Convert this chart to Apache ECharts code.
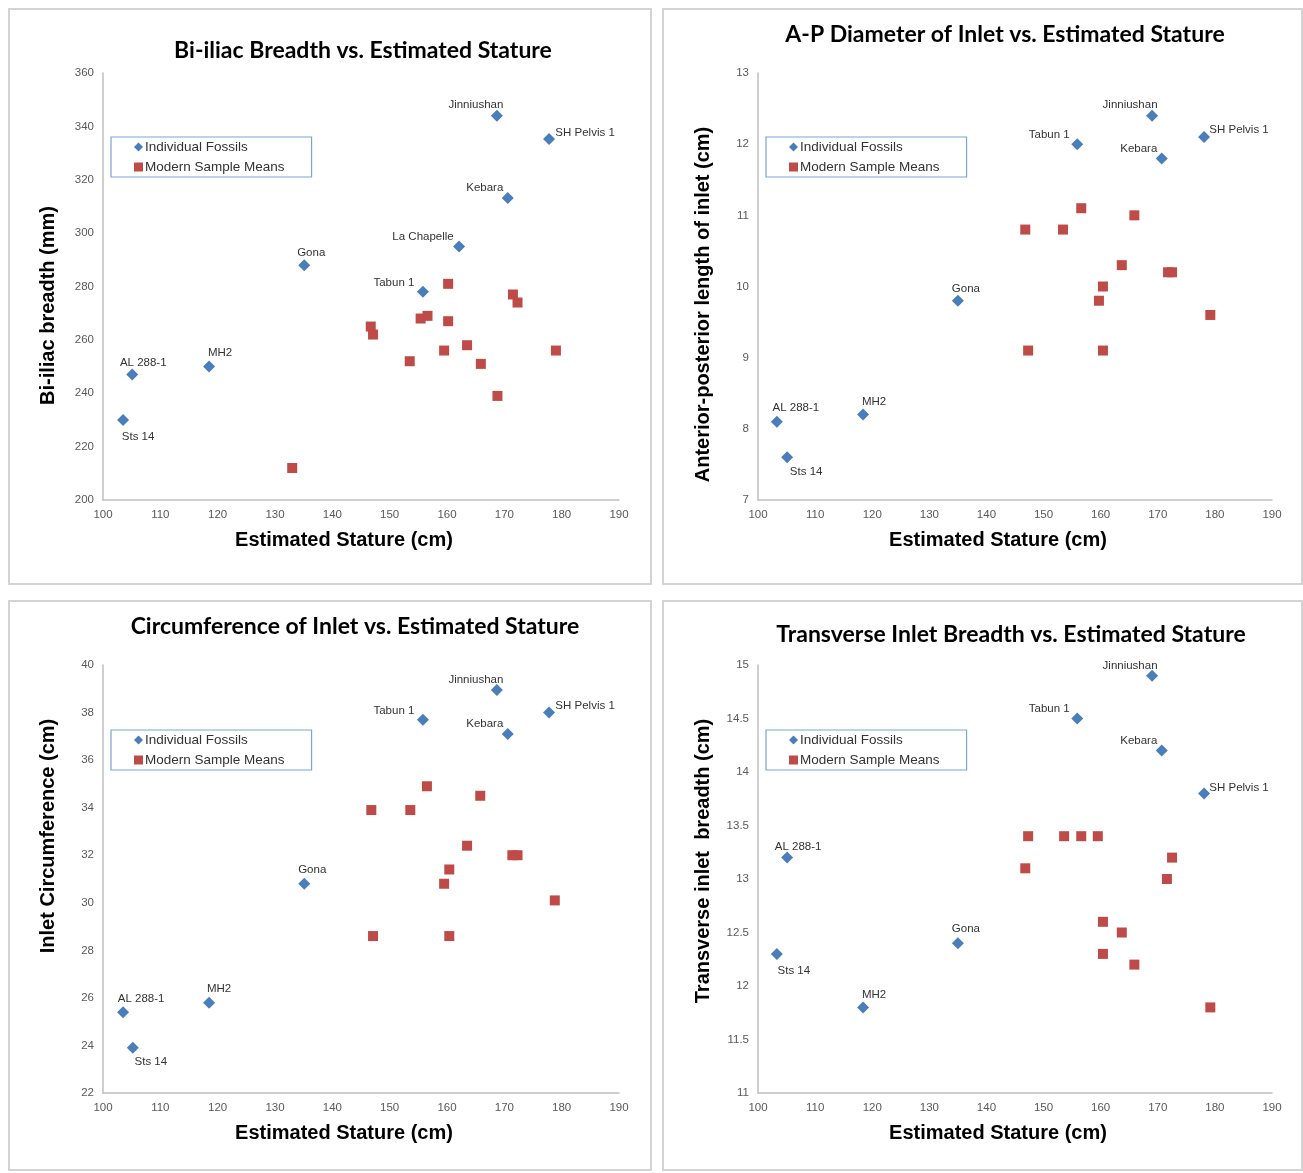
<!DOCTYPE html>
<html><head><meta charset="utf-8">
<script src="https://cdn.jsdelivr.net/npm/echarts@6/dist/echarts.min.js"></script>
<style>html,body{margin:0;padding:0;background:#fff}#c{width:1303px;height:1173px}</style>
</head><body><div id="c"></div>
<script>
// ---------- DATA ----------
const staturTicks = [100, 110, 120, 130, 140, 150, 160, 170, 180, 190];

// Panel 1: Bi-iliac breadth (mm)
const biiliacTicks = [200, 220, 240, 260, 280, 300, 320, 340, 360];
const biiliacFossilNames = ['Jinniushan', 'SH Pelvis 1', 'Kebara', 'La Chapelle', 'Gona', 'Tabun 1', 'MH2', 'AL 288-1', 'Sts 14'];
const biiliacFossilStature = [168.7, 177.8, 170.6, 162.1, 135.1, 155.8, 118.5, 105.1, 103.5];
const biiliacFossilValue = [344, 335.3, 313.2, 295, 288, 278, 250, 247, 230];
const biiliacModernStature = [160.2, 171.5, 172.3, 146.7, 147.1, 155.4, 156.6, 160.2, 153.5, 159.5, 163.5, 165.9, 179.0, 168.8, 133.0];
const biiliacModernValue = [281, 277, 274, 265, 262, 268, 269, 267, 252, 256, 258, 251, 256, 239, 212];

// Panel 2: A-P diameter of inlet (cm)
const apTicks = [7, 8, 9, 10, 11, 12, 13];
const apFossilNames = ['Jinniushan', 'Tabun 1', 'SH Pelvis 1', 'Kebara', 'Gona', 'MH2', 'AL 288-1', 'Sts 14'];
const apFossilStature = [169.0, 155.9, 178.1, 170.7, 135.0, 118.4, 103.3, 105.1];
const apFossilValue = [12.4, 12.0, 12.1, 11.8, 9.8, 8.2, 8.1, 7.6];
const apModernStature = [146.8, 147.3, 153.4, 156.6, 159.7, 160.4, 160.4, 163.7, 165.9, 171.8, 172.5, 179.2];
const apModernValue = [10.8, 9.1, 10.8, 11.1, 9.8, 10.0, 9.1, 10.3, 11.0, 10.2, 10.2, 9.6];

// Panel 3: Circumference of inlet (cm)
const circTicks = [22, 24, 26, 28, 30, 32, 34, 36, 38, 40];
const circFossilNames = ['Jinniushan', 'Tabun 1', 'SH Pelvis 1', 'Kebara', 'Gona', 'MH2', 'AL 288-1', 'Sts 14'];
const circFossilStature = [168.7, 155.8, 177.8, 170.6, 135.1, 118.5, 103.5, 105.2];
const circFossilValue = [38.95, 37.7, 38.0, 37.1, 30.8, 25.8, 25.4, 23.9];
const circModernStature = [146.8, 147.1, 153.6, 156.5, 159.5, 160.4, 160.4, 163.5, 165.8, 171.4, 172.3, 178.8];
const circModernValue = [33.9, 28.6, 33.9, 34.9, 30.8, 31.4, 28.6, 32.4, 34.5, 32.0, 32.0, 30.1];

// Panel 4: Transverse inlet breadth (cm)
const transTicks = [11, 11.5, 12, 12.5, 13, 13.5, 14, 14.5, 15];
const transFossilNames = ['Jinniushan', 'Tabun 1', 'Kebara', 'SH Pelvis 1', 'AL 288-1', 'Gona', 'Sts 14', 'MH2'];
const transFossilStature = [169.0, 155.9, 170.7, 178.1, 105.1, 135.0, 103.3, 118.4];
const transFossilValue = [14.9, 14.5, 14.2, 13.8, 13.2, 12.4, 12.3, 11.8];
const transModernStature = [146.8, 147.3, 153.6, 156.6, 159.5, 160.4, 160.4, 163.7, 165.9, 171.6, 172.5, 179.2];
const transModernValue = [13.1, 13.4, 13.4, 13.4, 13.4, 12.6, 12.3, 12.5, 12.2, 13.0, 13.2, 11.8];

const seriesNames = ['Individual Fossils', 'Modern Sample Means'];
const titles = ['Bi-iliac Breadth vs. Estimated Stature', 'A-P Diameter of Inlet vs. Estimated Stature',
  'Circumference of Inlet vs. Estimated Stature', 'Transverse Inlet Breadth vs. Estimated Stature'];
const yTitles = ['Bi-iliac breadth (mm)', 'Anterior-posterior length of inlet (cm)', 'Inlet Circumference (cm)', 'Transverse inlet  breadth (cm)'];
const xTitle = 'Estimated Stature (cm)';

// ---------- STYLE / LAYOUT ----------
const BLUE = '#4a7ebb', RED = '#be4b48';
const SANS = '"Liberation Sans", Arial, sans-serif';
const TITLEFONT = 'Lato, "Open Sans", sans-serif';
const panels = [
  { box: [9, 9, 642, 575], grid: [103, 73, 516, 427], titleX: 363, titleY: 38, legend: [111, 137], yPad: [0, 38, 0, 0] },
  { box: [663, 9, 639, 575], grid: [758, 73, 514, 427], titleX: 1005, titleY: 22, legend: [766, 137], yPad: [0, 36, 0, 0] },
  { box: [9, 601, 642, 569], grid: [103, 665, 516, 428], titleX: 355, titleY: 614, legend: [111, 730], yPad: [0, 0, 0, 86] },
  { box: [663, 601, 639, 569], grid: [758, 665, 514, 428], titleX: 1011, titleY: 622, legend: [766, 730], yPad: [0, 0, 0, 36] }
];
// label centre offsets (dx, dy) from marker centre
const labelOffsets = [
  { 'Jinniushan': [-21, -11], 'SH Pelvis 1': [36, -6], 'Kebara': [-23, -10], 'La Chapelle': [-36, -10], 'Gona': [7, -12],
    'Tabun 1': [-29, -9], 'MH2': [11, -14], 'AL 288-1': [11, -12], 'Sts 14': [15, 17] },
  { 'Jinniushan': [-22, -11], 'Tabun 1': [-28, -9], 'SH Pelvis 1': [35, -7], 'Kebara': [-23, -10], 'Gona': [8, -12],
    'MH2': [11, -13], 'AL 288-1': [19, -14], 'Sts 14': [19, 15] },
  { 'Jinniushan': [-21, -10], 'Tabun 1': [-29, -9], 'SH Pelvis 1': [36, -7], 'Kebara': [-23, -10], 'Gona': [8, -14],
    'MH2': [10, -14], 'AL 288-1': [18, -13], 'Sts 14': [18, 14] },
  { 'Jinniushan': [-22, -10], 'Tabun 1': [-28, -10], 'Kebara': [-23, -10], 'SH Pelvis 1': [35, -6], 'AL 288-1': [11, -11],
    'Gona': [8, -14], 'Sts 14': [17, 17], 'MH2': [11, -13] }
];

const panelData = [
  { ticks: biiliacTicks, fn: biiliacFossilNames, fx: biiliacFossilStature, fy: biiliacFossilValue, mx: biiliacModernStature, my: biiliacModernValue },
  { ticks: apTicks, fn: apFossilNames, fx: apFossilStature, fy: apFossilValue, mx: apModernStature, my: apModernValue },
  { ticks: circTicks, fn: circFossilNames, fx: circFossilStature, fy: circFossilValue, mx: circModernStature, my: circModernValue },
  { ticks: transTicks, fn: transFossilNames, fx: transFossilStature, fy: transFossilValue, mx: transModernStature, my: transModernValue }
];

const DIAMOND = 12, SQUARE = 10;
const option = { animation: false, backgroundColor: '#fff', title: [], grid: [], xAxis: [], yAxis: [], series: [], legend: [], graphic: [] };

panels.forEach((p, i) => {
  const d = panelData[i];
  option.graphic.push({ type: 'rect', shape: { x: p.box[0], y: p.box[1], width: p.box[2], height: p.box[3] },
    style: { fill: 'none', stroke: '#d3d3d3', lineWidth: 2 }, z: -1 });
  option.title.push({ text: titles[i], left: p.titleX, top: p.titleY + 1, textAlign: 'center', padding: 0,
    textStyle: { fontFamily: TITLEFONT, fontWeight: 'bold', fontSize: 23, color: '#000' } });
  option.grid.push({ left: p.grid[0], top: p.grid[1], width: p.grid[2], height: p.grid[3], containLabel: false });
  option.xAxis.push({ type: 'value', gridIndex: i, min: staturTicks[0], max: staturTicks[staturTicks.length - 1],
    interval: staturTicks[1] - staturTicks[0],
    axisLine: { show: true, onZero: false, lineStyle: { color: '#bfbfbf', width: 1.5 } }, axisTick: { show: false },
    splitLine: { show: false },
    axisLabel: { color: '#595959', fontSize: 11.5, fontFamily: SANS, margin: 9 },
    name: xTitle, nameLocation: 'middle', nameGap: 30,
    nameTextStyle: { fontFamily: SANS, fontWeight: 'bold', fontSize: 20, color: '#000', padding: [0, 34, 0, 0] } });
  option.yAxis.push({ type: 'value', gridIndex: i, min: d.ticks[0], max: d.ticks[d.ticks.length - 1],
    interval: d.ticks[1] - d.ticks[0],
    axisLine: { show: true, onZero: false, lineStyle: { color: '#bfbfbf', width: 1.5 } }, axisTick: { show: false },
    splitLine: { show: false },
    axisLabel: { color: '#595959', fontSize: 11.5, fontFamily: SANS, margin: 9 },
    name: yTitles[i], nameLocation: 'middle', nameGap: 45,
    nameTextStyle: { fontFamily: SANS, fontWeight: 'bold', fontSize: 20, color: '#000', padding: p.yPad } });
  const offs = labelOffsets[i];
  option.series.push({ type: 'scatter', name: seriesNames[0], xAxisIndex: i, yAxisIndex: i,
    symbol: 'diamond', symbolSize: DIAMOND, itemStyle: { color: BLUE, opacity: 1 },
    data: d.fn.map((n, k) => {
      const o = offs[n] || [0, -12];
      return { name: n, value: [d.fx[k], d.fy[k]],
        label: { position: [DIAMOND / 2 + o[0], DIAMOND / 2 + o[1]] } };
    }),
    label: { show: true, formatter: '{b}', align: 'center', verticalAlign: 'middle',
      color: '#333333', fontSize: 11.5, fontFamily: SANS } });
  option.series.push({ type: 'scatter', name: seriesNames[1], xAxisIndex: i, yAxisIndex: i,
    symbol: 'rect', symbolSize: SQUARE, itemStyle: { color: RED, opacity: 1 },
    data: d.mx.map((x, k) => [x, d.my[k]]) });
  option.legend.push({ left: p.legend[0], top: p.legend[1], orient: 'vertical',
    data: [{ name: seriesNames[0], icon: 'diamond' }, { name: seriesNames[1], icon: 'rect' }],
    itemWidth: 9, itemHeight: 9, itemGap: 4, selectedMode: false,
    itemStyle: { opacity: 1 },
    borderColor: '#7aa3d6', borderWidth: 1.2, borderRadius: 0,
    padding: [2, 27, 2, 23],
    textStyle: { color: '#333333', fontSize: 13.5, fontFamily: SANS, lineHeight: 16, padding: [0, 0, 0, -3] } });
});

const chart = echarts.init(document.getElementById('c'), null, { renderer: 'canvas' });
chart.setOption(option);
</script></body></html>
